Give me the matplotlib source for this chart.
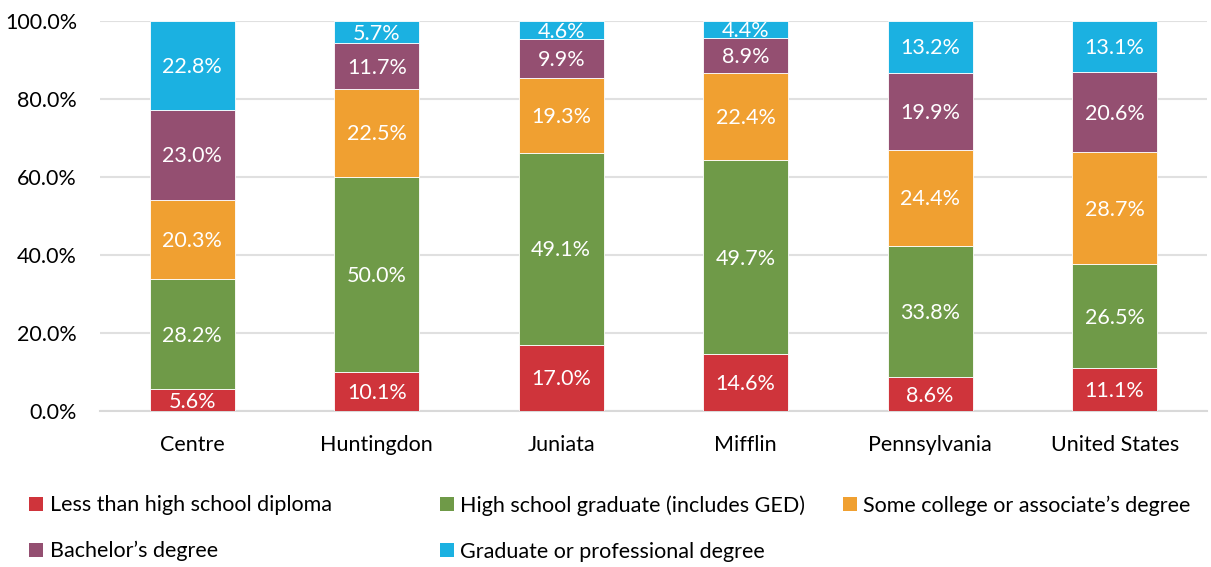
import numpy as np
import matplotlib.pyplot as plt
from matplotlib.patches import Patch

plt.rcParams['font.family'] = ['Lato', 'DejaVu Sans']

# Data
regions = ["Centre", "Huntingdon", "Juniata", "Mifflin", "Pennsylvania", "United States"]
series = ["Less than high school diploma", "High school graduate (includes GED)",
          "Some college or associate\u2019s degree", "Bachelor\u2019s degree",
          "Graduate or professional degree"]
less_hs = [5.6, 10.1, 17.0, 14.6, 8.6, 11.1]
hs_grad = [28.2, 50.0, 49.1, 49.7, 33.8, 26.5]
some_college = [20.3, 22.5, 19.3, 22.4, 24.4, 28.7]
bachelor = [23.0, 11.7, 9.9, 8.9, 19.9, 20.6]
graduate = [22.8, 5.7, 4.6, 4.4, 13.2, 13.1]
colors = ["#CF343B", "#6F9A48", "#F0A031", "#944F71", "#1BB1E1"]

values = np.array([less_hs, hs_grad, some_college, bachelor, graduate])
shares = values / values.sum(axis=0) * 100  # 100% stacked

fs = 15.5

fig = plt.figure(figsize=(12.11, 5.67), dpi=100)
ax = fig.add_axes([0.0826, 0.275, 0.914, 0.688])

x = np.arange(len(regions))
bottom = np.zeros(len(regions))
for i in range(len(series)):
    ax.bar(x, shares[i], 0.46, bottom=bottom, color=colors[i],
           edgecolor="white", linewidth=0.6, zorder=3)
    for xi, b, h, v in zip(x, bottom, shares[i], values[i]):
        ax.text(xi, b + h / 2 - 0.4, f"{v:.1f}%", ha="center", va="center",
                color="white", fontsize=fs, zorder=4)
    bottom += shares[i]

ax.set_xlim(-0.5, len(regions) - 0.5)
ax.set_ylim(0, 100)
ax.set_yticks(np.arange(0, 101, 20))
ax.set_yticklabels([f"{t:.1f}%" for t in np.arange(0, 101, 20)])
ax.set_xticks(x)
ax.set_xticklabels(regions)
ax.tick_params(length=0, labelsize=fs)
ax.tick_params(axis="x", pad=17)
ax.tick_params(axis="y", pad=16.5)
ax.grid(axis="y", color="#E0E0E0", linewidth=1.5, zorder=0)
for s in ["top", "right", "left"]:
    ax.spines[s].set_visible(False)
ax.spines["bottom"].set_color("#D9D9D9")
ax.spines["bottom"].set_linewidth(1.5)

# Legend in three fixed columns
cols = [[0, 3], [1, 4], [2]]
lefts = [0.024, 0.3633, 0.696]
for c, lx in zip(cols, lefts):
    handles = [Patch(facecolor=colors[i], label=series[i]) for i in c]
    fig.legend(handles=handles, loc="upper left", bbox_to_anchor=(lx, 0.1265),
               frameon=False, fontsize=fs, handlelength=0.65, handleheight=0.65,
               handletextpad=0.3, labelspacing=1.2, borderaxespad=0,
               borderpad=0)

fig.savefig("out.png", dpi=100)
